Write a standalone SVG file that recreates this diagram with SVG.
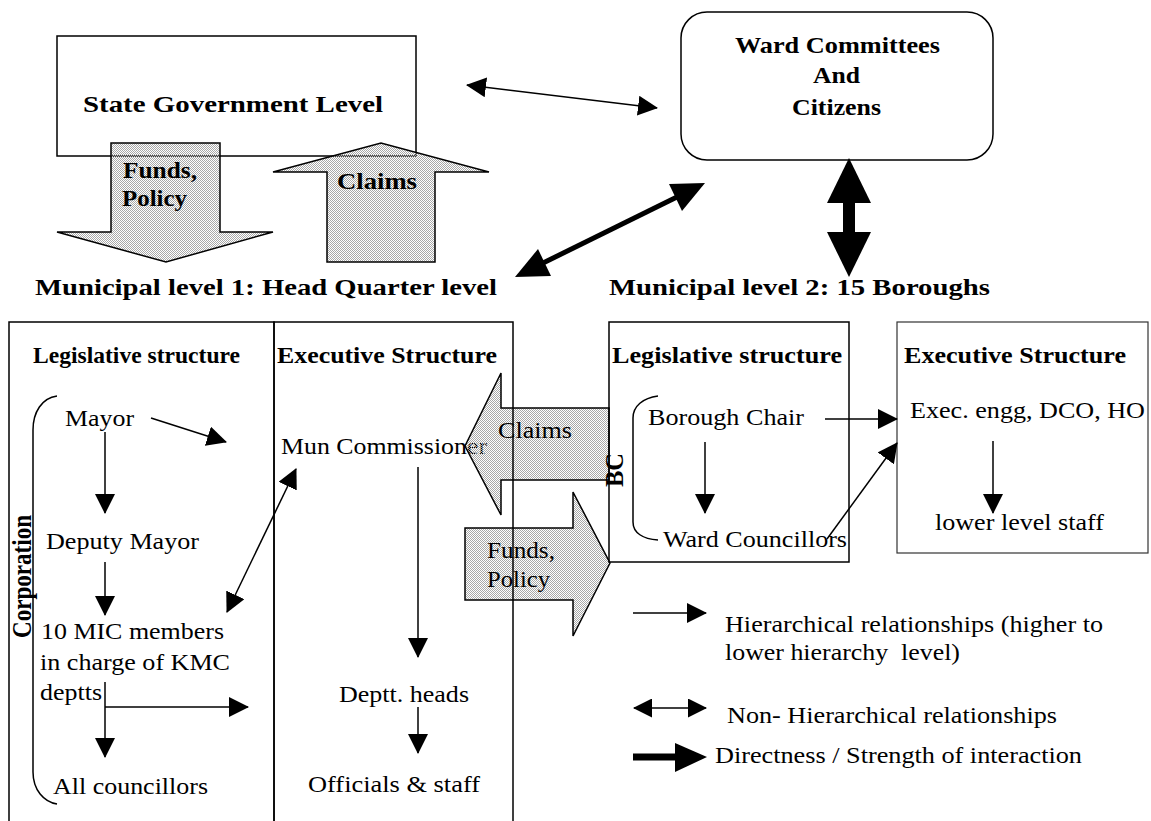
<svg xmlns="http://www.w3.org/2000/svg" width="1151" height="821" viewBox="0 0 1151 821">
<style>
text{font-family:'Liberation Serif','Times New Roman',Times,serif;fill:#000;font-size:23.5px}
.b{font-weight:bold}
.box{fill:none;stroke:#000;stroke-width:1.5}
.wbox{fill:#fff;stroke:#000;stroke-width:1.5}
.ln{fill:none;stroke:#000;stroke-width:1.5}
.blk{fill:#000;stroke:none}
.big{fill:url(#dither);stroke:#000;stroke-width:1.5;stroke-linejoin:miter}
</style>
<defs>
<pattern id="dither" width="2" height="2" patternUnits="userSpaceOnUse">
<rect x="0" y="0" width="1" height="1" fill="#a8a8a8"/>
<rect x="1" y="1" width="1" height="1" fill="#a8a8a8"/>
</pattern>
<marker id="ah" viewBox="0 0 20 20" refX="19" refY="10" markerWidth="20" markerHeight="20" markerUnits="userSpaceOnUse" orient="auto-start-reverse">
<path d="M0,0 L20,10 L0,20 z" fill="#000"/>
</marker>
<marker id="ah2" viewBox="0 0 19 19" refX="18" refY="9.5" markerWidth="19" markerHeight="19" markerUnits="userSpaceOnUse" orient="auto-start-reverse">
<path d="M0,0 L19,9.5 L0,19 z" fill="#000"/>
</marker>
</defs>
<rect width="1151" height="821" fill="#fff"/>

<g id="state-government">
<rect class="wbox" x="57" y="36" width="359" height="120"/>
<text class="b" x="83" y="112" font-size="25.5" textLength="300" lengthAdjust="spacingAndGlyphs">State Government Level</text>
</g>

<g id="ward-committees">
<rect class="wbox" x="681" y="12" width="312" height="148" rx="26" ry="26"/>
<text class="b" x="735" y="53" font-size="23.5" textLength="205" lengthAdjust="spacingAndGlyphs">Ward Committees</text>
<text class="b" x="813" y="83" font-size="23.5" textLength="47" lengthAdjust="spacingAndGlyphs">And</text>
<text class="b" x="792" y="115" font-size="23.5" textLength="89" lengthAdjust="spacingAndGlyphs">Citizens</text>
</g>

<g id="headings">
<text class="b" x="35" y="295" font-size="25.5" textLength="462" lengthAdjust="spacingAndGlyphs">Municipal level 1: Head Quarter level</text>
<text class="b" x="609" y="295" font-size="25.5" textLength="381" lengthAdjust="spacingAndGlyphs">Municipal level 2: 15 Boroughs</text>
</g>

<g id="mayor"><text x="65" y="426" textLength="69" lengthAdjust="spacingAndGlyphs">Mayor</text></g>
<g id="deputy-mayor"><text x="46" y="549" textLength="153" lengthAdjust="spacingAndGlyphs">Deputy Mayor</text></g>
<g id="mic-members">
<text x="41" y="639" textLength="183" lengthAdjust="spacingAndGlyphs">10 MIC members</text>
<text x="40" y="670" textLength="190" lengthAdjust="spacingAndGlyphs">in charge of KMC</text>
<text x="40" y="700" textLength="62" lengthAdjust="spacingAndGlyphs">deptts</text>
</g>
<g id="all-councillors"><text x="53" y="794" textLength="155" lengthAdjust="spacingAndGlyphs">All councillors</text></g>
<g id="mun-commissioner"><text x="281" y="454" textLength="206" lengthAdjust="spacingAndGlyphs">Mun Commissioner</text></g>
<g id="deptt-heads"><text x="339" y="702" textLength="130" lengthAdjust="spacingAndGlyphs">Deptt. heads</text></g>
<g id="officials-staff"><text x="308" y="792" textLength="172" lengthAdjust="spacingAndGlyphs">Officials &amp; staff</text></g>
<g id="borough-chair"><text x="648" y="425" textLength="156" lengthAdjust="spacingAndGlyphs">Borough Chair</text></g>
<g id="ward-councillors"><text x="663" y="547" textLength="184" lengthAdjust="spacingAndGlyphs">Ward Councillors</text></g>
<g id="exec-engg"><text x="910" y="418" textLength="235" lengthAdjust="spacingAndGlyphs">Exec. engg, DCO, HO</text></g>
<g id="lower-staff"><text x="935" y="530" textLength="169" lengthAdjust="spacingAndGlyphs">lower level staff</text></g>

<g id="funds-policy-state">
<polygon class="big" points="111,143 220,143 220,232 273,232 166,262 57,232 111,232"/>
<text class="b" x="123" y="178" font-size="22.5" textLength="74" lengthAdjust="spacingAndGlyphs">Funds,</text>
<text class="b" x="122" y="206" font-size="22.5" textLength="65" lengthAdjust="spacingAndGlyphs">Policy</text>
</g>
<g id="claims-state">
<polygon class="big" points="327,262 435,262 435,172 489,172 381,143 273,172 327,172"/>
<text class="b" x="337" y="189" font-size="22.5" textLength="80" lengthAdjust="spacingAndGlyphs">Claims</text>
</g>
<g id="claims-borough">
<polygon class="big" points="609,408 501,408 501,373 465,446 501,515 501,480 609,480"/>
<text x="498" y="438" textLength="74" lengthAdjust="spacingAndGlyphs">Claims</text>
</g>
<g id="funds-policy-borough">
<polygon class="big" points="465,528 573,528 573,492 610,563 573,636 573,600 465,600"/>
<text x="487" y="558" textLength="68" lengthAdjust="spacingAndGlyphs">Funds,</text>
<text x="487" y="587" textLength="63" lengthAdjust="spacingAndGlyphs">Policy</text>
</g>

<g id="hq-legislative">
<rect class="box" x="9" y="322" width="265" height="510"/>
<text class="b" x="33" y="363" font-size="21" textLength="207" lengthAdjust="spacingAndGlyphs">Legislative structure</text>
<path class="ln" d="M57,396 C42,398 33,412 33,430 L33,772 C33,790 44,802 57,804"/>
<text class="b" transform="translate(31,638) rotate(-90) scale(1,1.15)" x="0" y="0" font-size="25" textLength="123" lengthAdjust="spacingAndGlyphs">Corporation</text>
</g>
<g id="hq-executive">
<rect class="box" x="274" y="322" width="239" height="510"/>
<text class="b" x="277" y="363" font-size="23" textLength="220" lengthAdjust="spacingAndGlyphs">Executive Structure</text>
</g>
<g id="borough-legislative">
<rect class="box" x="609" y="322" width="240" height="240"/>
<text class="b" x="612" y="363" font-size="23" textLength="230" lengthAdjust="spacingAndGlyphs">Legislative structure</text>
<path class="ln" d="M658,396 C643,398 633,406 633,418 L633,522 C633,533 643,539 658,540"/>
<text class="b" transform="translate(623,487) rotate(-90) scale(1,1.1)" x="0" y="0" font-size="21" textLength="34" lengthAdjust="spacingAndGlyphs">BC</text>
</g>
<g id="borough-executive">
<rect x="897" y="322" width="251" height="231" fill="none" stroke="#333" stroke-width="1.2"/>
<text class="b" x="904" y="363" font-size="23" textLength="222" lengthAdjust="spacingAndGlyphs">Executive Structure</text>
</g>

<g id="connectors">
<line class="ln" x1="467" y1="85" x2="657" y2="108" marker-start="url(#ah)" marker-end="url(#ah)"/>
<line x1="540" y1="264.5" x2="680" y2="195.5" stroke="#000" stroke-width="5"/>
<polygon class="blk" points="515,277 538,249 551,276"/>
<polygon class="blk" points="705,183 669,184 682,211"/>
<polygon class="blk" points="849,158 871,203 827,203"/>
<rect class="blk" x="843" y="202" width="12" height="31"/>
<polygon class="blk" points="849,277 871,232 827,232"/>
<line class="ln" x1="151" y1="418" x2="226" y2="442" marker-end="url(#ah)"/>
<line class="ln" x1="105" y1="432" x2="105" y2="513" marker-end="url(#ah)"/>
<line class="ln" x1="105" y1="562" x2="105" y2="615" marker-end="url(#ah)"/>
<line class="ln" x1="105" y1="682" x2="105" y2="757" marker-end="url(#ah)"/>
<line class="ln" x1="105" y1="707" x2="248" y2="707" marker-end="url(#ah)"/>
<line class="ln" x1="227" y1="612" x2="296" y2="469" marker-start="url(#ah)" marker-end="url(#ah)"/>
<line class="ln" x1="418" y1="467" x2="418" y2="657" marker-end="url(#ah)"/>
<line class="ln" x1="418" y1="707" x2="418" y2="753" marker-end="url(#ah)"/>
<line class="ln" x1="825" y1="419" x2="897" y2="419" marker-end="url(#ah)"/>
<line class="ln" x1="827" y1="539" x2="897" y2="443" marker-end="url(#ah)"/>
<line class="ln" x1="705" y1="442" x2="705" y2="513" marker-end="url(#ah)"/>
<line class="ln" x1="993" y1="441" x2="993" y2="513" marker-end="url(#ah)"/>
</g>

<g id="legend">
<line class="ln" x1="633" y1="613" x2="706" y2="613" marker-end="url(#ah)"/>
<text x="725" y="632" textLength="378" lengthAdjust="spacingAndGlyphs">Hierarchical relationships (higher to</text>
<text x="725" y="660" textLength="235" lengthAdjust="spacingAndGlyphs" xml:space="preserve">lower hierarchy  level)</text>
<line class="ln" x1="634" y1="708" x2="706" y2="708" marker-start="url(#ah2)" marker-end="url(#ah2)"/>
<text x="727" y="723" textLength="330" lengthAdjust="spacingAndGlyphs">Non- Hierarchical relationships</text>
<line x1="633" y1="757" x2="677" y2="757" stroke="#000" stroke-width="7"/>
<polygon class="blk" points="675,743 707,757 675,772"/>
<text x="715" y="763" textLength="367" lengthAdjust="spacingAndGlyphs">Directness / Strength of interaction</text>
</g>
</svg>
